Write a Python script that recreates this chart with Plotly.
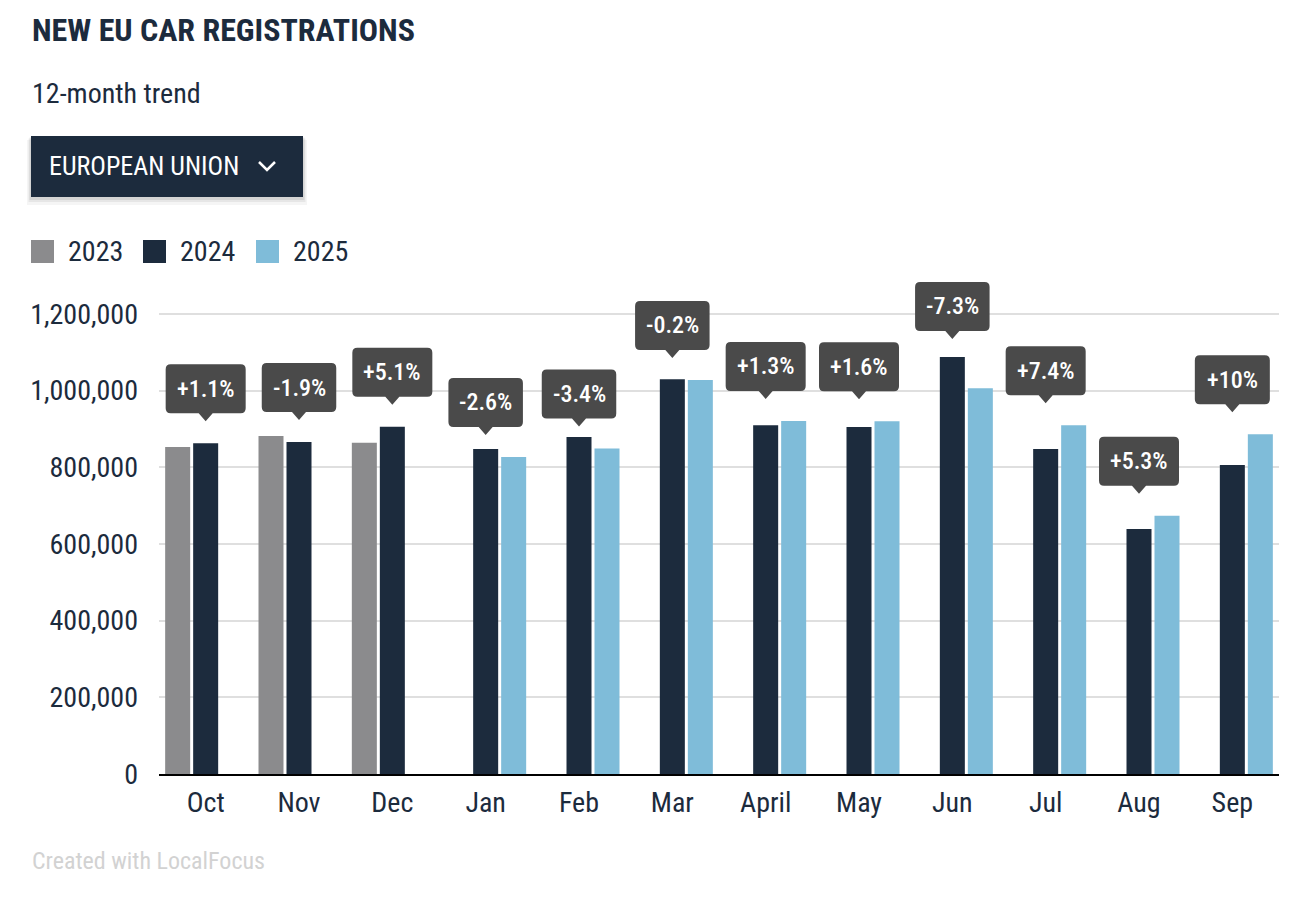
import plotly.graph_objects as go

# ---------------- data ----------------
months = ["Oct", "Nov", "Dec", "Jan", "Feb", "Mar", "April", "May", "Jun", "Jul", "Aug", "Sep"]
years = ["2023", "2024", "2025"]
reg_2023 = [853000, 882000, 864000, None, None, None, None, None, None, None, None, None]
reg_2024 = [863000, 866000, 906000, 848000, 879000, 1030000, 910000, 905000, 1088000, 848000, 639000, 806000]
reg_2025 = [None, None, None, 827000, 849000, 1028000, 921000, 920000, 1006000, 910000, 674000, 886000]
changes = ["+1.1%", "-1.9%", "+5.1%", "-2.6%", "-3.4%", "-0.2%", "+1.3%", "+1.6%", "-7.3%", "+7.4%", "+5.3%", "+10%"]
y_ticks = [0, 200000, 400000, 600000, 800000, 1000000, 1200000]

title_text = "NEW EU CAR REGISTRATIONS"
subtitle_text = "12-month trend"
dropdown_text = "EUROPEAN UNION"
footer_text = "Created with LocalFocus"

# ---------------- style ----------------
FONT = "Roboto Condensed, Liberation Sans Narrow, Arial Narrow, DejaVu Sans Condensed, Roboto, sans-serif"
NAVY = "#1c2b3d"
GREY = "#8b8b8d"
LIGHT = "#7fbcd9"
BOX = "#4a4a4a"
colors = [GREY, NAVY, LIGHT]

W, H = 1310, 900
L, R, T, B = 159, 1279, 268, 774
Y_MAX = 1320000


def px(x):
    return (x - L) / (R - L)


def py(y):
    return (B - y) / (B - T)


fig = go.Figure()
for name, vals, col in zip(years, [reg_2023, reg_2024, reg_2025], colors):
    fig.add_trace(go.Bar(x=months, y=vals, name=name, marker_color=col,
                         marker_line_width=0, showlegend=False, hoverinfo="skip"))

shapes = []
annotations = []

# ---- callout boxes with change labels ----
char_w = {"+": 11, "-": 5.5, ".": 5, "%": 17}
k = (B - T) / Y_MAX  # px per unit
for i, lab in enumerate(changes):
    if i < 3:
        cur, prev = reg_2024[i], reg_2023[i]
    else:
        cur, prev = reg_2025[i], reg_2024[i]
    anchor, d = cur, 22
    if (prev - cur) * k > 30:
        anchor, d = prev, 18
    tw = sum(char_w.get(c, 11) for c in lab)
    w = tw + 25
    hw = w / 2
    h, th, tw2, r = 49, 8, 7, 5
    yb = d + th
    yt = yb + h
    path = (f"M 0,{d} L {tw2},{yb} L {hw - r},{yb} Q {hw},{yb} {hw},{yb + r} "
            f"L {hw},{yt - r} Q {hw},{yt} {hw - r},{yt} L {-hw + r},{yt} "
            f"Q {-hw},{yt} {-hw},{yt - r} L {-hw},{yb + r} Q {-hw},{yb} {-hw + r},{yb} "
            f"L {-tw2},{yb} Z")
    shapes.append(dict(type="path", xref="x", yref="y", xsizemode="pixel", ysizemode="pixel",
                       xanchor=i, yanchor=anchor, path=path, fillcolor=BOX,
                       line=dict(width=0), layer="above"))
    annotations.append(dict(x=i, y=anchor, xref="x", yref="y", text=lab, showarrow=False,
                            yshift=yb + h / 2, font=dict(family=FONT, size=24, color="white", weight=500),
                            xanchor="center", yanchor="middle"))

# ---- title, subtitle, footer ----
annotations.append(dict(x=px(30), y=py(30), xref="paper", yref="paper", text=f"<b>{title_text}</b>",
                        showarrow=False, xanchor="left", yanchor="middle",
                        font=dict(family=FONT, size=32, color=NAVY)))
annotations.append(dict(x=px(30), y=py(93), xref="paper", yref="paper", text=subtitle_text,
                        showarrow=False, xanchor="left", yanchor="middle",
                        font=dict(family=FONT, size=28, color=NAVY)))
annotations.append(dict(x=px(30), y=py(861), xref="paper", yref="paper", text=footer_text,
                        showarrow=False, xanchor="left", yanchor="middle",
                        font=dict(family=FONT, size=24, color="#d2d2d2")))

# ---- dropdown ----
for off, op in [(8, 0.04), (5, 0.06), (3, 0.08)]:
    shapes.append(dict(type="rect", xref="paper", yref="paper", x0=px(31 - off / 2), x1=px(303 + off / 2),
                       y0=py(197 + off), y1=py(136 + off / 2), fillcolor="black", opacity=op,
                       line=dict(width=0), layer="above"))
shapes.append(dict(type="rect", xref="paper", yref="paper", x0=px(31), x1=px(303),
                   y0=py(197), y1=py(136), fillcolor=NAVY, line=dict(width=0), layer="above"))
shapes.append(dict(type="path", xref="paper", yref="paper",
                   path=f"M {px(259)},{py(162)} L {px(267)},{py(170)} L {px(275)},{py(162)}",
                   line=dict(color="white", width=2.5), layer="above"))
annotations.append(dict(x=px(47), y=py(166.5), xref="paper", yref="paper", text=dropdown_text,
                        showarrow=False, xanchor="left", yanchor="middle",
                        font=dict(family=FONT, size=26, color="white")))

# ---- legend ----
leg_x = [31, 143, 256]
for name, col, x0 in zip(years, colors, leg_x):
    shapes.append(dict(type="rect", xref="paper", yref="paper", x0=px(x0), x1=px(x0 + 23),
                       y0=py(263), y1=py(240), fillcolor=col, line=dict(width=0), layer="above"))
    annotations.append(dict(x=px(x0 + 35), y=py(251), xref="paper", yref="paper", text=name,
                            showarrow=False, xanchor="left", yanchor="middle",
                            font=dict(family=FONT, size=28, color=NAVY)))

fig.update_layout(
    width=W, height=H,
    margin=dict(l=L, r=W - R, t=T, b=H - B, pad=0),
    paper_bgcolor="white", plot_bgcolor="white",
    barmode="group", bargap=0.1, bargroupgap=0.107,
    shapes=shapes, annotations=annotations,
    font=dict(family=FONT, color=NAVY),
    showlegend=False,
)
fig.update_xaxes(type="category", showgrid=False, ticks="", showline=True, linecolor="black",
                 linewidth=2, ticklabelstandoff=2,
                 tickfont=dict(family=FONT, size=28, color=NAVY), fixedrange=True)
fig.update_yaxes(range=[0, Y_MAX], tickvals=y_ticks, tickformat=",", showgrid=True,
                 gridcolor="#dfdfdf", gridwidth=1.5, zeroline=False, ticks="",
                 ticklabelstandoff=20,
                 tickfont=dict(family=FONT, size=28, color=NAVY), fixedrange=True)

fig.write_html("out.html", config={"displayModeBar": False},
               post_script="document.body.style.margin='0px';")
